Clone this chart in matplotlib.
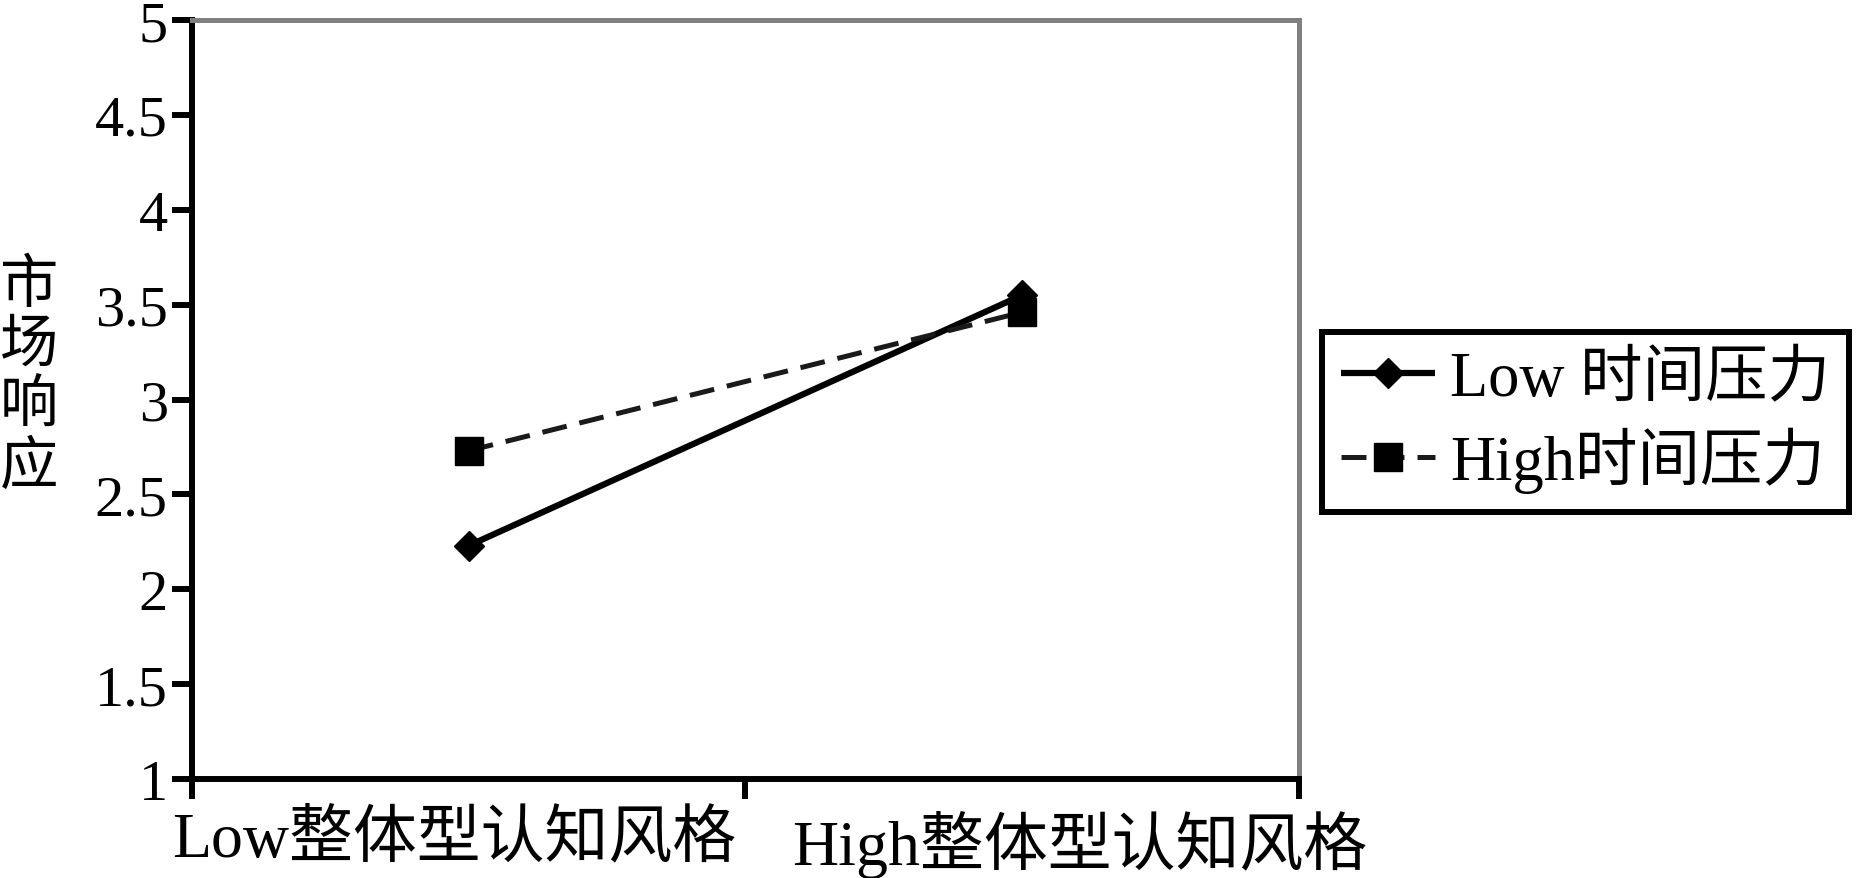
import matplotlib
matplotlib.use("Agg")
import matplotlib.pyplot as plt
from matplotlib.transforms import ScaledTranslation

plt.rcParams['font.family'] = ['Liberation Serif', 'Noto Sans CJK SC']

# data
categories = ["Low整体型认知风格", "High整体型认知风格"]
low_pressure = [2.23, 3.55]
high_pressure = [2.73, 3.46]
series_names = ["Low 时间压力", "High时间压力"]
y_ticks = [1, 1.5, 2, 2.5, 3, 3.5, 4, 4.5, 5]
y_tick_labels = ["1", "1.5", "2", "2.5", "3", "3.5", "4", "4.5", "5"]
y_label = "市\n场\n响\n应"

fs = 42
fig = plt.figure(figsize=(18.62, 8.79), dpi=100)
ax = fig.add_axes([0.1031, 0.1126, 0.5945, 0.8635])

xpos = [0.5, 1.5]
ax.plot(xpos, low_pressure, color="black", lw=4.5, marker="D", ms=15,
        label=series_names[0], solid_capstyle="butt")
ax.plot(xpos, high_pressure, color="#1a1a1a", lw=3.6, marker="s", ms=19.5,
        markerfacecolor="black", markeredgecolor="black",
        dashes=(5.0, 2.6), label=series_names[1])

ax.set_xlim(0, 2)
ax.set_ylim(1, 5)
ax.set_yticks(y_ticks, y_tick_labels)
ax.set_xticks([0, 1, 2], ["", "", ""])
ax.set_xticks(xpos, categories, minor=True)
ax.tick_params(axis="both", which="major", direction="out", length=14.4,
               width=4.3, color="black", labelsize=fs, pad=3)
ax.tick_params(axis="x", which="minor", length=0, labelsize=46, pad=22)

# nudge the category labels like the original
offsets = [-15, 57]
for lab, dx in zip(ax.get_xticklabels(minor=True), offsets):
    lab.set_transform(lab.get_transform() +
                      ScaledTranslation(dx / 100, 0, fig.dpi_scale_trans))

for side in ["left", "bottom"]:
    ax.spines[side].set_linewidth(4.3)
    ax.spines[side].set_color("black")
for side in ["top", "right"]:
    ax.spines[side].set_linewidth(3.6)
    ax.spines[side].set_color("#808080")

fig.text(29 / 1862, 1 - 378 / 879, y_label, fontsize=fs, ha="center",
         va="center", linespacing=1.18)

leg = fig.legend(loc="center left", bbox_to_anchor=(1322 / 1862, 1 - 423 / 879),
                 fontsize=45, frameon=True, fancybox=False, edgecolor="black",
                 framealpha=1, handlelength=1.5, handletextpad=0.25,
                 labelspacing=0.28, borderpad=0.3, borderaxespad=0)
leg.get_frame().set_linewidth(4.3)

fig.savefig("out.png", dpi=100)
